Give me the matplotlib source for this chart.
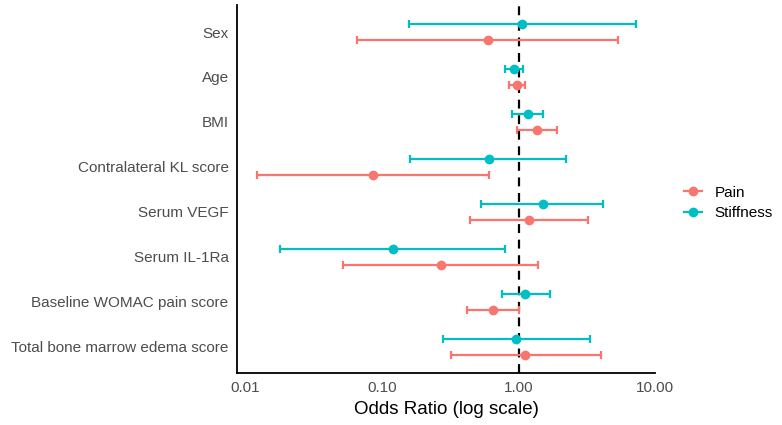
import numpy as np
import matplotlib
matplotlib.use("Agg")
import matplotlib.pyplot as plt
from matplotlib.lines import Line2D

plt.rcParams['font.family'] = ['Liberation Sans', 'DejaVu Sans']

# variables, de arriba hacia abajo
variables = ["Sex", "Age", "BMI", "Contralateral KL score", "Serum VEGF",
             "Serum IL-1Ra", "Baseline WOMAC pain score",
             "Total bone marrow edema score"]

# odds ratio e intervalos
pain_or = [0.60, 0.98, 1.37, 0.086, 1.19, 0.27, 0.65, 1.12]
pain_lo = [0.066, 0.845, 0.98, 0.0121, 0.44, 0.052, 0.42, 0.32]
pain_hi = [5.39, 1.12, 1.90, 0.61, 3.21, 1.40, 1.00, 4.03]

stiff_or = [1.06, 0.92, 1.18, 0.61, 1.50, 0.12, 1.12, 0.96]
stiff_lo = [0.158, 0.80, 0.90, 0.161, 0.53, 0.0179, 0.755, 0.28]
stiff_hi = [7.26, 1.08, 1.52, 2.23, 4.19, 0.80, 1.69, 3.35]

xticks = [0.01, 0.1, 1, 10]
xtick_labels = ["0.01", "0.10", "1.00", "10.00"]

col_pain = "#F8766D"
col_stiff = "#00BFC4"

fig = plt.figure(figsize=(7.82, 4.25), dpi=100)
ax = fig.add_axes([0.303, 0.1224, 0.5346, 0.8658])

pos = np.arange(len(variables))[::-1] + 1.0
off = 0.18

def dibujar(orv, lo, hi, y, color):
	orv = np.array(orv); lo = np.array(lo); hi = np.array(hi)
	err = np.vstack([orv - lo, hi - orv])
	ax.errorbar(orv, y, xerr=err, fmt='o', color=color, ecolor=color,
				elinewidth=1.6, capsize=3, capthick=1.6, markersize=6,
				zorder=3)

dibujar(pain_or, pain_lo, pain_hi, pos - off, col_pain)
dibujar(stiff_or, stiff_lo, stiff_hi, pos + off, col_stiff)

ax.axvline(1, color="black", linestyle=(0, (4, 3)), linewidth=1.6, zorder=2)

ax.set_xscale("log")
ax.set_xlim(0.00865, 10)
ax.set_ylim(0.42, 8.6)
ax.set_xticks(xticks)
ax.set_xticklabels(xtick_labels)
ax.minorticks_off()
ax.set_yticks(pos)
ax.set_yticklabels(variables)
ax.tick_params(length=0, labelsize=11, labelcolor="#4D4D4D", pad=6)
ax.set_xlabel("Odds Ratio (log scale)", fontsize=13.5, labelpad=4)

for s in ["top", "right"]:
	ax.spines[s].set_visible(False)
for s in ["left", "bottom"]:
	ax.spines[s].set_linewidth(1.3)

handles = [Line2D([], [], color=col_pain, marker='o', markersize=6, linewidth=1.6),
		   Line2D([], [], color=col_stiff, marker='o', markersize=6, linewidth=1.6)]
ax.legend(handles, ["Pain", "Stiffness"], loc="center left",
		  bbox_to_anchor=(1.036, 0.462), frameon=False, fontsize=11,
		  handlelength=1.2, handletextpad=0.8, labelspacing=0.45)

fig.savefig("out.png", dpi=100)
